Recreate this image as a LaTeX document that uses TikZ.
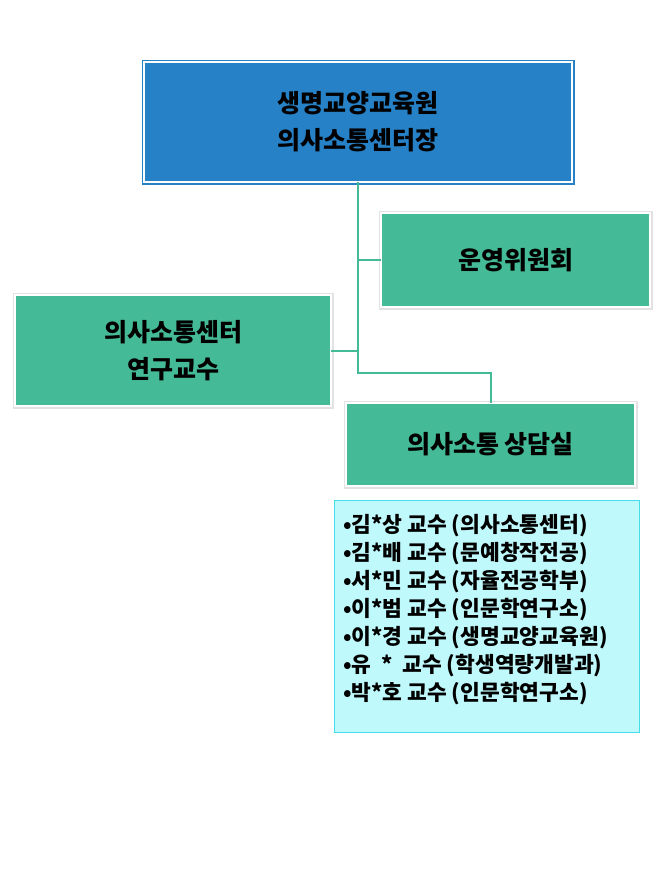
\documentclass[tikz,border=0pt]{standalone}
\usepackage{fontspec}
\usepackage{tikz}
\usetikzlibrary{positioning}
\newfontfamily\kr{Noto Sans CJK KR}
\definecolor{headblue}{RGB}{38,129,199}
\definecolor{boxgreen}{RGB}{68,186,150}
\definecolor{rimgray}{RGB}{226,226,226}
\definecolor{listcyan}{RGB}{192,249,252}
\definecolor{listrim}{RGB}{66,222,236}

\begin{document}
\begin{tikzpicture}[x=1pt,y=-1pt,inner sep=0pt,outer sep=0pt,
        headbox/.style={rectangle,fill=headblue,draw=white,line width=1.6pt,
            preaction={draw=headblue,line width=5pt},align=center,
            font=\kr\bfseries\fontsize{25}{37}\selectfont},
        unitbox/.style={rectangle,fill=boxgreen,draw=white,line width=1.4pt,
            preaction={draw=rimgray,line width=5pt},align=center,
            font=\kr\bfseries\fontsize{25}{37}\selectfont},
        listbox/.style={rectangle,fill=listcyan,draw=listrim,line width=1pt},
        link/.style={draw=boxgreen,line width=2pt}]
            \useasboundingbox (0,0) rectangle (667,889);

            \node   [headbox,minimum width=428,minimum height=120]  (head)   at (358,122)   {생명교양교육원\\의사소통센터장};
            \node   [unitbox,minimum width=269,minimum height=94]   (board)  at (515.5,260) {운영위원회};
            \node   [unitbox,minimum width=316,minimum height=111]  (prof)   at (173,350.5) {의사소통센터\\연구교수};
            \node   [unitbox,minimum width=289,minimum height=83]   (clinic) at (490.5,444.5) {의사소통 상담실};
            \node   [listbox,minimum width=305,minimum height=232]  (staff)  at (486.5,616) {};
            \node   [anchor=north west,align=left,
                     font=\kr\bfseries\fontsize{21.5}{28}\selectfont]  (names)  at (343,514)
                    {•김*상 교수 (의사소통센터)\\
                     •김*배 교수 (문예창작전공)\\
                     •서*민 교수 (자율전공학부)\\
                     •이*범 교수 (인문학연구소)\\
                     •이*경 교수 (생명교양교육원)\\
                     •유 \ * \ 교수 (학생역량개발과)\\
                     •박*호 교수 (인문학연구소)};

            \coordinate (turn) at (head.south |- 0,373);

            \path   [link] (head.south) -- (turn) -| (clinic.north);
            \path   [link] (head.south |- board.west) -- (board.west);
            \path   [link] (prof.east) -- (head.south |- prof.east);
        \end{tikzpicture}
\end{document}
